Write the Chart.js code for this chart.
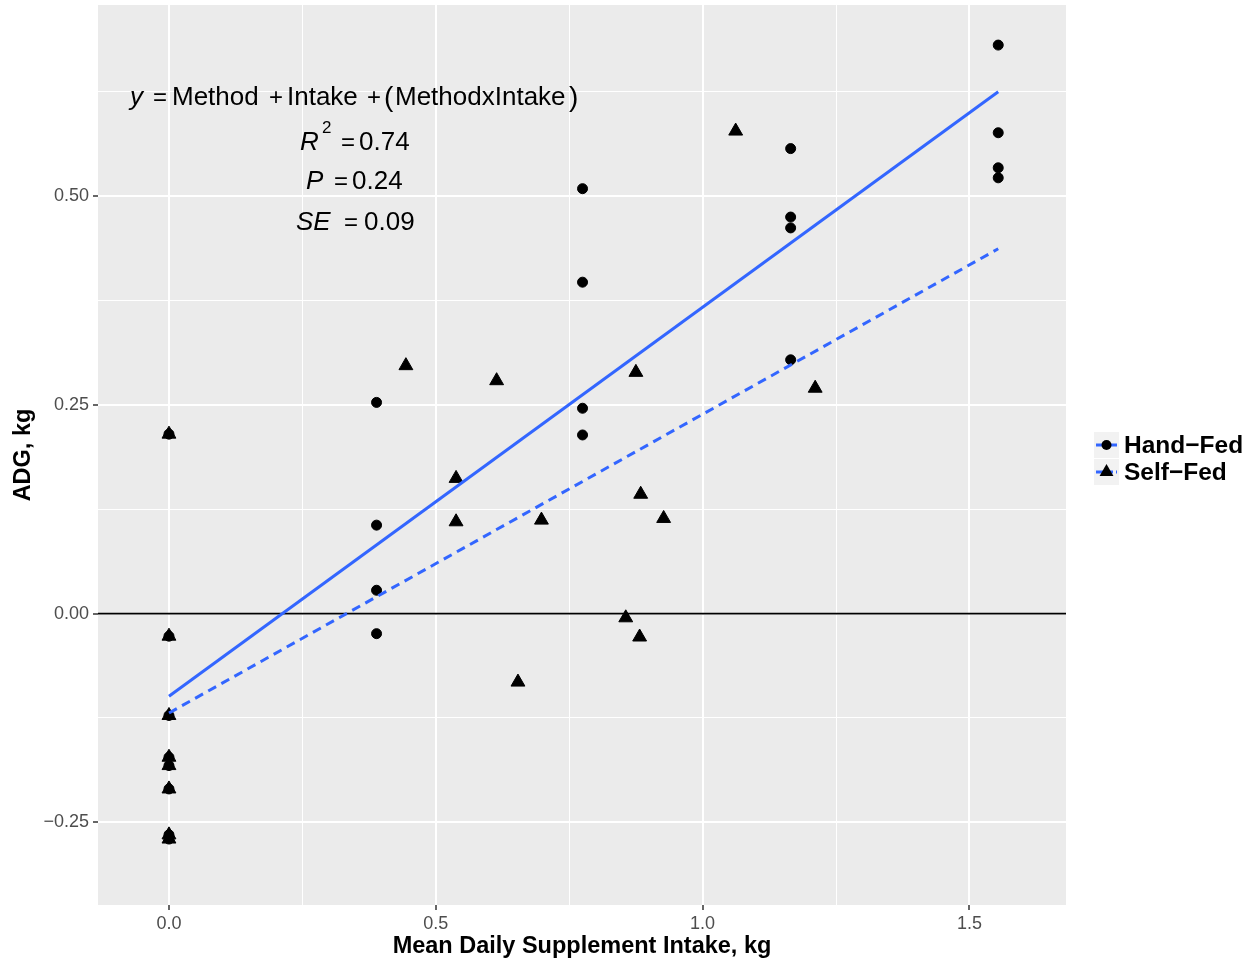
<!DOCTYPE html>
<html>
<head>
<meta charset="utf-8">
<script src="https://cdn.jsdelivr.net/npm/chart.js@4"></script>
<style>
  html, body { margin: 0; padding: 0; background: #ffffff; }
  #wrap { width: 1257px; height: 961px; }
</style>
</head>
<body>
<div id="wrap"><canvas id="adgChart" width="1257" height="961"></canvas></div>
<script>
// Hand-Fed points (circles)
const handX = [0, 0, 0, 0, 0, 0, 0, 0,
    0.389, 0.389, 0.389, 0.389,
    0.775, 0.775, 0.775, 0.775,
    1.165, 1.165, 1.165, 1.165,
    1.554, 1.554, 1.554, 1.554];
const handY = [0.215, -0.027, -0.122, -0.172, -0.182, -0.21, -0.265, -0.27,
    0.253, 0.106, 0.028, -0.024,
    0.509, 0.397, 0.246, 0.214,
    0.557, 0.475, 0.462, 0.304,
    0.681, 0.576, 0.534, 0.522];

// Self-Fed points (triangles)
const selfX = [0, 0, 0, 0, 0, 0, 0, 0,
    0.444, 0.538, 0.538, 0.614, 0.654, 0.698, 0.856, 0.875, 0.882, 0.884, 0.927, 1.062, 1.211];
const selfY = [0.215, -0.027, -0.122, -0.172, -0.182, -0.21, -0.265, -0.27,
    0.297, 0.162, 0.110, 0.279, -0.082, 0.112, -0.005, 0.289, -0.028, 0.143, 0.114, 0.578, 0.270];

// fitted lines (end points)
const fitX = [0, 1.554];
const handFitY = [-0.099, 0.625];
const selfFitY = [-0.119, 0.437];

// axes
const xTicks = [0, 0.5, 1.0, 1.5];
const yTicks = [-0.25, 0, 0.25, 0.5];
const xRange = [-0.133, 1.681];
const yRange = [-0.349, 0.729];

const seriesNames = ['Hand\u2212Fed', 'Self\u2212Fed'];
const FONT = "'Liberation Sans', Arial, sans-serif";
const BLUE = '#3366FF';

function toPoints(xs, ys) {
    return xs.map((x, i) => ({ x: x, y: ys[i] }));
}

function isMajor(v, list) {
    return list.some(t => Math.abs(t - v) < 1e-6);
}

// panel background, zero line, legend and annotation text
const ggPlugin = {
    id: 'ggPlugin',
    beforeDraw(chart) {
        const { ctx, chartArea: a } = chart;
        ctx.save();
        ctx.fillStyle = '#EBEBEB';
        ctx.fillRect(a.left, a.top, a.right - a.left, a.bottom - a.top);
        ctx.restore();
    },
    beforeDatasetsDraw(chart) {
        const { ctx, chartArea: a } = chart;
        const y0 = chart.scales.y.getPixelForValue(0);
        ctx.save();
        ctx.strokeStyle = '#000';
        ctx.lineWidth = 1.6;
        ctx.beginPath();
        ctx.moveTo(a.left, y0);
        ctx.lineTo(a.right, y0);
        ctx.stroke();
        ctx.restore();
    },
    afterDraw(chart) {
        const { ctx, chartArea: a } = chart;
        ctx.save();
        ctx.textBaseline = 'alphabetic';

        // axis titles
        ctx.fillStyle = '#000';
        ctx.font = 'bold 23.5px ' + FONT;
        ctx.textAlign = 'center';
        ctx.fillText('Mean Daily Supplement Intake, kg', (a.left + a.right) / 2, 953);
        ctx.save();
        ctx.translate(30, (a.top + a.bottom) / 2);
        ctx.rotate(-Math.PI / 2);
        ctx.fillText('ADG, kg', 0, 0);
        ctx.restore();

        // legend
        const keys = [{ y: 432, dash: [], shape: 'circle' }, { y: 459, dash: [7, 3], shape: 'triangle' }];
        keys.forEach((k, i) => {
            ctx.fillStyle = '#F2F2F2';
            ctx.fillRect(1094, k.y, 25, 26);
            const cy = k.y + 13;
            ctx.strokeStyle = BLUE;
            ctx.lineWidth = 3;
            ctx.setLineDash(k.dash);
            ctx.beginPath();
            ctx.moveTo(1096, cy);
            ctx.lineTo(1117, cy);
            ctx.stroke();
            ctx.setLineDash([]);
            ctx.fillStyle = '#000';
            ctx.beginPath();
            if (k.shape === 'circle') {
                ctx.arc(1106.5, cy, 5, 0, Math.PI * 2);
            } else {
                const r = 8;
                ctx.moveTo(1106.5, cy - r);
                ctx.lineTo(1106.5 + r * 0.866, cy + r / 2);
                ctx.lineTo(1106.5 - r * 0.866, cy + r / 2);
                ctx.closePath();
            }
            ctx.fill();
            ctx.font = 'bold 24.5px ' + FONT;
            ctx.textAlign = 'left';
            ctx.fillText(seriesNames[i], 1124, k.y + 21);
        });

        // model annotation
        const pieces = [
            // [text, x, baseline, italic, size]
            ['y', 130, 105, true, 26],
            ['=', 153, 105, false, 24],
            ['Method', 172, 105, false, 26],
            ['+', 269, 105, false, 24],
            ['Intake', 287, 105, false, 26],
            ['+', 367, 105, false, 24],
            ['(', 384, 106, false, 28],
            ['MethodxIntake', 395, 105, false, 26],
            [')', 569, 106, false, 28],
            ['R', 300, 150, true, 26],
            ['2', 322, 133, false, 17],
            ['=', 341, 150, false, 24],
            ['0.74', 359, 150, false, 26],
            ['P', 306, 189, true, 26],
            ['=', 334, 189, false, 24],
            ['0.24', 352, 189, false, 26],
            ['SE', 296, 230, true, 26],
            ['=', 344, 230, false, 24],
            ['0.09', 364, 230, false, 26]
        ];
        ctx.fillStyle = '#000';
        ctx.textAlign = 'left';
        pieces.forEach(p => {
            ctx.font = (p[3] ? 'italic ' : '') + p[4] + 'px ' + FONT;
            ctx.fillText(p[0], p[1], p[2]);
        });

        ctx.restore();
    }
};

const ctx = document.getElementById('adgChart').getContext('2d');

new Chart(ctx, {
    type: 'scatter',
    data: {
        datasets: [
            {
                label: 'Hand-Fed fit',
                type: 'line',
                data: toPoints(fitX, handFitY),
                borderColor: BLUE,
                borderWidth: 3,
                pointRadius: 0,
                fill: false,
                order: 0
            },
            {
                label: 'Self-Fed fit',
                type: 'line',
                data: toPoints(fitX, selfFitY),
                borderColor: BLUE,
                borderWidth: 3,
                borderDash: [9, 6],
                pointRadius: 0,
                fill: false,
                order: 0
            },
            {
                label: seriesNames[1],
                data: toPoints(selfX, selfY),
                pointStyle: 'triangle',
                pointRadius: 8,
                backgroundColor: '#000',
                borderColor: '#000',
                borderWidth: 1,
                order: 1
            },
            {
                label: seriesNames[0],
                data: toPoints(handX, handY),
                pointStyle: 'circle',
                pointRadius: 5,
                backgroundColor: '#000',
                borderColor: '#000',
                borderWidth: 1,
                order: 2
            }
        ]
    },
    options: {
        responsive: false,
        animation: false,
        events: [],
        layout: { autoPadding: false, padding: { top: 5, right: 191, left: 0, bottom: 0 } },
        plugins: {
            legend: { display: false },
            tooltip: { enabled: false }
        },
        scales: {
            x: {
                type: 'linear',
                min: xRange[0],
                max: xRange[1],
                border: { display: false },
                afterFit(scale) {
                    scale.height = 56;
                    scale.paddingLeft = 0;
                    scale.paddingRight = 0;
                },
                grid: {
                    color: '#FFFFFF',
                    lineWidth: c => isMajor(c.tick.value, xTicks) ? 2 : 1,
                    tickColor: c => isMajor(c.tick.value, xTicks) ? '#333333' : 'rgba(0,0,0,0)',
                    tickWidth: 1.5,
                    tickLength: 5,
                    drawTicks: true
                },
                ticks: {
                    stepSize: 0.25,
                    includeBounds: false,
                    autoSkip: false,
                    maxRotation: 0,
                    minRotation: 0,
                    padding: 3,
                    color: '#4D4D4D',
                    font: { family: FONT, size: 18 },
                    callback: v => isMajor(v, xTicks) ? v.toFixed(1) : ''
                }
            },
            y: {
                type: 'linear',
                min: yRange[0],
                max: yRange[1],
                border: { display: false },
                afterFit(scale) {
                    scale.width = 98;
                    scale.paddingTop = 0;
                    scale.paddingBottom = 0;
                },
                grid: {
                    color: '#FFFFFF',
                    lineWidth: c => isMajor(c.tick.value, yTicks) ? 2 : 1,
                    tickColor: c => isMajor(c.tick.value, yTicks) ? '#333333' : 'rgba(0,0,0,0)',
                    tickWidth: 1.5,
                    tickLength: 5,
                    drawTicks: true
                },
                ticks: {
                    stepSize: 0.125,
                    includeBounds: false,
                    autoSkip: false,
                    padding: 4,
                    color: '#4D4D4D',
                    font: { family: FONT, size: 18 },
                    callback: v => isMajor(v, yTicks) ? v.toFixed(2).replace('-', '\u2212') : ''
                }
            }
        }
    },
    plugins: [ggPlugin]
});
</script>
</body>
</html>
